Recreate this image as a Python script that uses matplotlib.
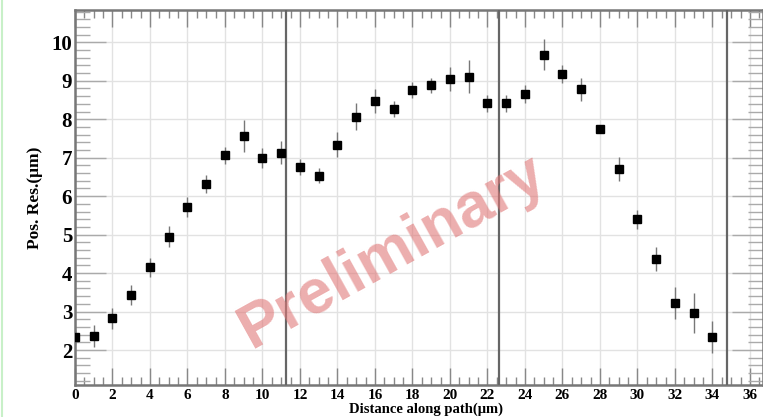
import numpy as np
import matplotlib
matplotlib.use("Agg")
import matplotlib.pyplot as plt
from matplotlib.ticker import MultipleLocator
from matplotlib.lines import Line2D

# distance along path (um) and position resolution (um)
distance = np.arange(0, 35)
pos_res = [2.33, 2.36, 2.82, 3.44, 4.15, 4.95, 5.72, 6.32, 7.06, 7.56,
           6.99, 7.13, 6.75, 6.53, 7.34, 8.07, 8.48, 8.27, 8.76, 8.88,
           9.04, 9.10, 8.42, 8.42, 8.65, 9.68, 9.17, 8.78, 7.75, 6.71,
           5.40, 4.37, 3.22, 2.96, 2.33]
pos_err = [0.20, 0.28, 0.28, 0.26, 0.25, 0.28, 0.26, 0.23, 0.23, 0.42,
           0.25, 0.30, 0.21, 0.19, 0.32, 0.34, 0.31, 0.20, 0.20, 0.20,
           0.31, 0.43, 0.22, 0.22, 0.23, 0.40, 0.23, 0.30, 0.10, 0.32,
           0.25, 0.32, 0.42, 0.53, 0.42]
boundaries = [11.25, 22.6, 34.8]

serif = "Liberation Serif"

fig = plt.figure(figsize=(7.63, 4.17), dpi=100)
ax = fig.add_axes([75 / 763, 1 - 385 / 417, 1 - 75 / 763, 375 / 417])

ax.set_xlim(0, 36.7)
ax.set_ylim(1.09, 10.84)

ax.grid(True, which="major", color="#e2e2e2", lw=1.0)
ax.set_axisbelow(True)

for b in boundaries:
    ax.axvline(b, color="#666666", lw=1.6, zorder=3)

ax.errorbar(distance, pos_res, yerr=pos_err, fmt="s", color="black",
            ms=5.5, ecolor="#777777", elinewidth=1.0, capsize=0, zorder=4)

# watermark, placed in pixel coords (origin bottom-left)
ax.text(392, 417 - 252, "Preliminary", transform=None, fontsize=45,
        fontfamily="Liberation Sans", fontweight="bold", color="#e07878",
        alpha=0.6, rotation=29, ha="center", va="center", zorder=5)

ax.xaxis.set_major_locator(MultipleLocator(2))
ax.xaxis.set_minor_locator(MultipleLocator(0.5))
ax.yaxis.set_major_locator(MultipleLocator(1))
ax.yaxis.set_minor_locator(MultipleLocator(0.2))
ax.set_yticks(range(2, 11))

ax.tick_params(axis="x", which="major", direction="in", length=12, width=1,
               color="#888888", top=True, labelsize=11, pad=3)
ax.tick_params(axis="x", which="minor", direction="in", length=6, width=1,
               color="#888888", top=True)
ax.tick_params(axis="y", which="major", direction="in", length=22, width=1,
               color="#aaaaaa", right=True, labelsize=15, pad=2)
ax.tick_params(axis="y", which="minor", direction="in", length=11, width=1,
               color="#aaaaaa", right=True)

for lab in ax.get_xticklabels() + ax.get_yticklabels():
    lab.set_fontfamily(serif)
    lab.set_fontweight("bold")

for s in ax.spines.values():
    s.set_color("#777777")
    s.set_linewidth(1.8)

ax.set_xlabel("Distance along path(\u03bcm)", fontfamily=serif,
              fontweight="bold", fontsize=10.5, labelpad=0)
ax.xaxis.set_label_coords(0.51, -0.047)
ax.set_ylabel("Pos. Res.(\u03bcm)", fontfamily=serif, fontweight="bold",
              fontsize=12.5)
ax.yaxis.set_label_coords(-0.047, 0.5)

fig.add_artist(Line2D([0.002, 0.002], [0.0, 1.0], color="#c8f0c8", lw=1.5))

fig.savefig("out.png", dpi=100)
